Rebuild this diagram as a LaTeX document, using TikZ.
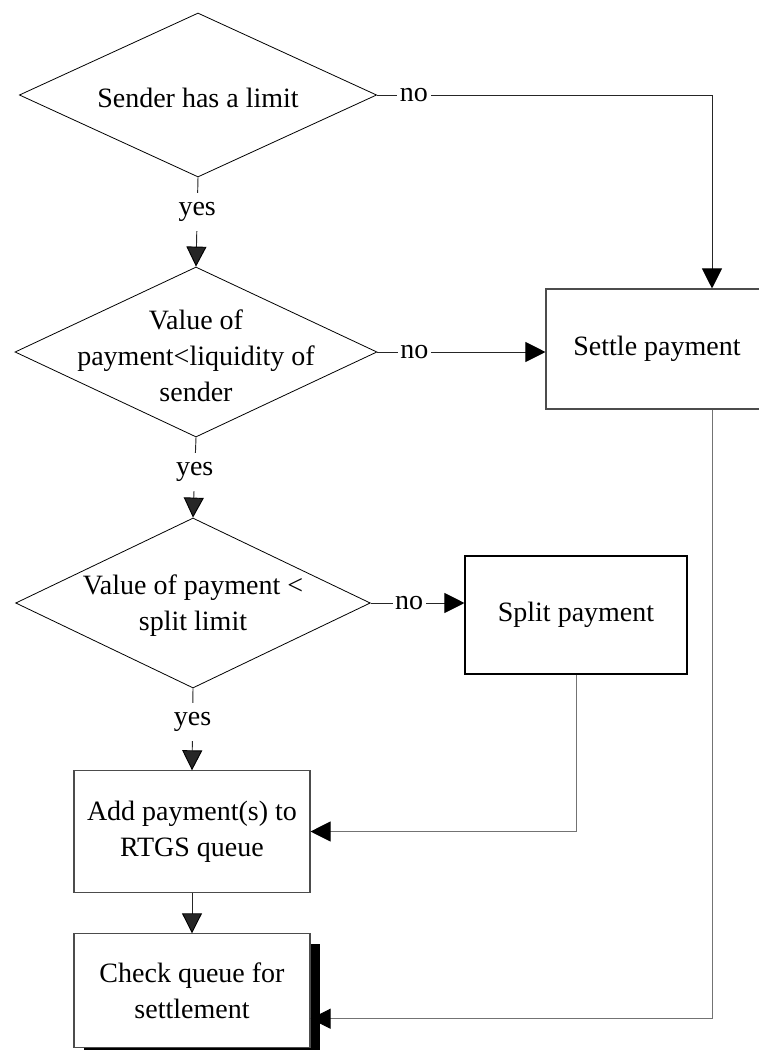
\documentclass[tikz,border=0pt]{standalone}
\usepackage{fontspec}
\setmainfont{Liberation Serif}
\usetikzlibrary{positioning,shapes.geometric,arrows.meta,shadows}

\begin{document}
\begin{tikzpicture}[
	x=0.75pt, y=-0.75pt,
	font=\fontsize{21}{27}\selectfont,
	decision/.style={draw,diamond,inner sep=0pt,line width=0.6pt,minimum width=268pt,minimum height=127.5pt},
	process/.style={draw=black!70,fill=white,rectangle,line width=0.8pt,align=center,inner sep=2pt},
	flow/.style={line width=0.7pt,-{Triangle[length=15pt,width=15pt,color=black]}},
	answer/.style={fill=white,text=black,inner xsep=2pt,inner ysep=7pt}
	]
	\useasboundingbox (0,0) rectangle (758,1050);
	\coordinate (rail) at (712,0);
	\node[decision,minimum height=123pt,label={[yshift=-2pt]center:Sender has a limit}] (limit) at (198,95) {};
	\node[decision,minimum width=271.5pt,label={[align=center,yshift=-3pt]center:Value of\\payment<liquidity of\\sender}] (liquidity) at (196,352) {};
	\node[decision,minimum width=266pt,label={[align=center,yshift=-2pt]center:Value of payment <\\split limit}] (splitlimit) at (193,603) {};
	\node[process,minimum width=166.5pt,minimum height=90pt] (settle) at (657,349) {Settle payment};
	\node[process,draw=black,minimum width=166.5pt,minimum height=88.5pt] (split) at (576,615) {Split payment};
	\node[process,minimum width=177pt,minimum height=91pt] (queue) at (192,831.5) {Add payment(s) to\\RTGS queue};
	\node[process,minimum width=177pt,minimum height=85pt,
		drop shadow={shadow xshift=7.5pt,shadow yshift=-7.5pt,fill=black,opacity=1}] (check) at (192,990.5) {Check queue for\\settlement};
	\path[flow,black!85]
		(limit.south) edge node[answer,pos=0.39] {yes} (liquidity.north)
		(liquidity.south) edge node[answer,pos=0.43] {yes} (splitlimit.north)
		(splitlimit.south) edge node[answer,pos=0.41] {yes} (queue.north)
		(queue) edge (check);
	\draw[flow,black!85] (limit.east) -| node[answer,pos=0.055] {no} (settle.north -| rail);
	\draw[flow,black!85] (liquidity.east) -- node[answer,pos=0.22] {no} (liquidity.east -| settle.west);
	\draw[flow,black!85] (splitlimit.east) -- node[answer,pos=0.41] {no} (splitlimit.east -| split.west);
	\draw[flow,black!55] (split.south) |- (queue.east);
	\draw[flow,black!55] (settle.south -| rail) |- ([yshift=21.75pt]check.south east);
\end{tikzpicture}
\end{document}
